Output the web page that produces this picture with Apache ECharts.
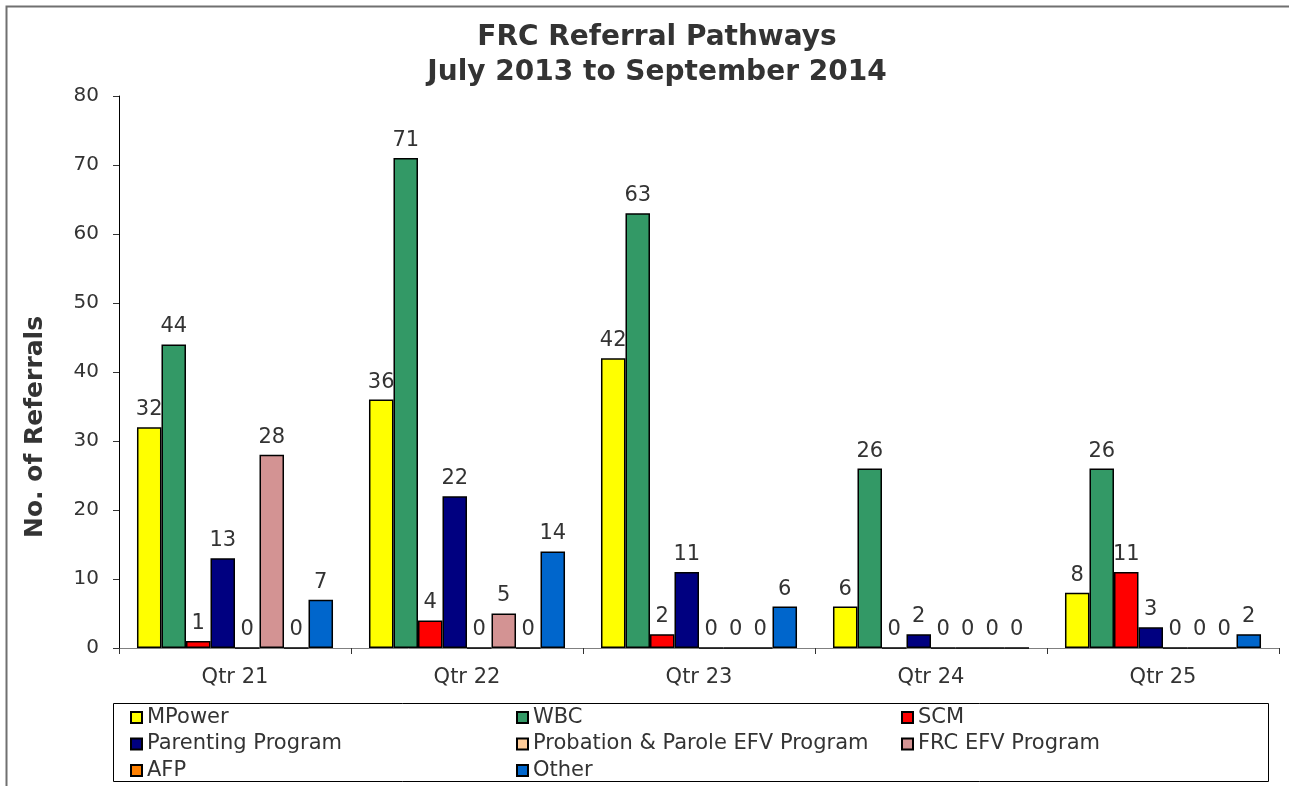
<!DOCTYPE html>
<html>
<head>
<meta charset="utf-8">
<script src="https://cdn.jsdelivr.net/npm/echarts@6/dist/echarts.min.js"></script>
<style>html,body{margin:0;padding:0;background:#fff;}#c{width:1289px;height:786px;}</style>
</head>
<body>
<div id="c"></div>
<script>
const categories = ['Qtr 21', 'Qtr 22', 'Qtr 23', 'Qtr 24', 'Qtr 25'];
const seriesNames = ['MPower', 'WBC', 'SCM', 'Parenting Program', 'Probation & Parole EFV Program', 'FRC EFV Program', 'AFP', 'Other'];
const mpower = [32, 36, 42, 6, 8];
const wbc = [44, 71, 63, 26, 26];
const scm = [1, 4, 2, 0, 11];
const parenting = [13, 22, 11, 2, 3];
const probation = [0, 0, 0, 0, 0];
const frcEfv = [28, 5, 0, 0, 0];
const afp = [0, 0, 0, 0, 0];
const other = [7, 14, 6, 0, 2];
const yTicks = [0, 10, 20, 30, 40, 50, 60, 70, 80];

const seriesData = [mpower, wbc, scm, parenting, probation, frcEfv, afp, other];
const colors = ['#FFFF00', '#339966', '#FF0000', '#000080', '#FFCC99', '#D39393', '#FF8000', '#0066CC'];
const FONT = 'DejaVu Sans';

const chart = echarts.init(document.getElementById('c'));
const legendCommon = {
  orient: 'vertical', itemWidth: 11, itemHeight: 11, itemGap: 5.5, top: 707, height: 90,
  padding: 0, icon: 'rect',
  textStyle: { fontFamily: FONT, fontSize: 21, color: '#333', lineHeight: 21 },
  selectedMode: false
};
chart.setOption({
  animation: false,
  color: colors,
  title: {
    text: 'FRC Referral Pathways\nJuly 2013 to September 2014',
    left: 652, top: 15, textAlign: 'center',
    textStyle: { fontFamily: FONT, fontSize: 28, fontWeight: 'bold', color: '#333', lineHeight: 35 }
  },
  legend: [
    Object.assign({}, legendCommon, { left: 130, data: [seriesNames[0], seriesNames[3], seriesNames[6]] }),
    Object.assign({}, legendCommon, { left: 516, data: [seriesNames[1], seriesNames[4], seriesNames[7]] }),
    Object.assign({}, legendCommon, { left: 901, data: [seriesNames[2], seriesNames[5]] })
  ],
  grid: { left: 119, right: 10, top: 96, bottom: 138, containLabel: false },
  xAxis: {
    type: 'category', data: categories,
    axisLine: { lineStyle: { color: '#808080', width: 1 } },
    axisTick: { show: true, length: 6, alignWithLabel: false, lineStyle: { color: '#333' } },
    axisLabel: { fontFamily: FONT, fontSize: 21, color: '#333', margin: 19 }
  },
  yAxis: {
    type: 'value', min: 0, max: 80, interval: 10,
    axisLine: { show: true, lineStyle: { color: '#000', width: 1 } },
    axisTick: { show: true, length: 6, lineStyle: { color: '#333' } },
    splitLine: { show: false },
    axisLabel: { fontFamily: FONT, fontSize: 20, color: '#333', margin: 20,
      formatter: v => yTicks.includes(v) ? String(v) : '' }
  },
  series: seriesNames.map((n, i) => ({
    name: n, type: 'bar', data: seriesData[i],
    barGap: '0%', barCategoryGap: '15.5%',
    itemStyle: { color: colors[i], borderColor: '#000', borderWidth: 1.5 },
    label: { show: true, position: 'top', distance: 7, fontFamily: FONT, fontSize: 21, color: '#333' }
  })),
  graphic: [
    { type: 'polyline', shape: { points: [[6.5, 786], [6.5, 6.5], [1289, 6.5]] }, style: { stroke: '#707070', lineWidth: 2, fill: null } },
    { type: 'rect', shape: { x: 113.5, y: 703.5, width: 1155, height: 78 }, style: { stroke: '#000', lineWidth: 1, fill: null }, z: -1 },
    { type: 'text', x: 35, y: 427, rotation: Math.PI / 2,
      style: { text: 'No. of Referrals', fontFamily: FONT, fontSize: 25, fontWeight: 'bold', fill: '#333', align: 'center', verticalAlign: 'middle' } }
  ]
});
</script>
</body>
</html>
